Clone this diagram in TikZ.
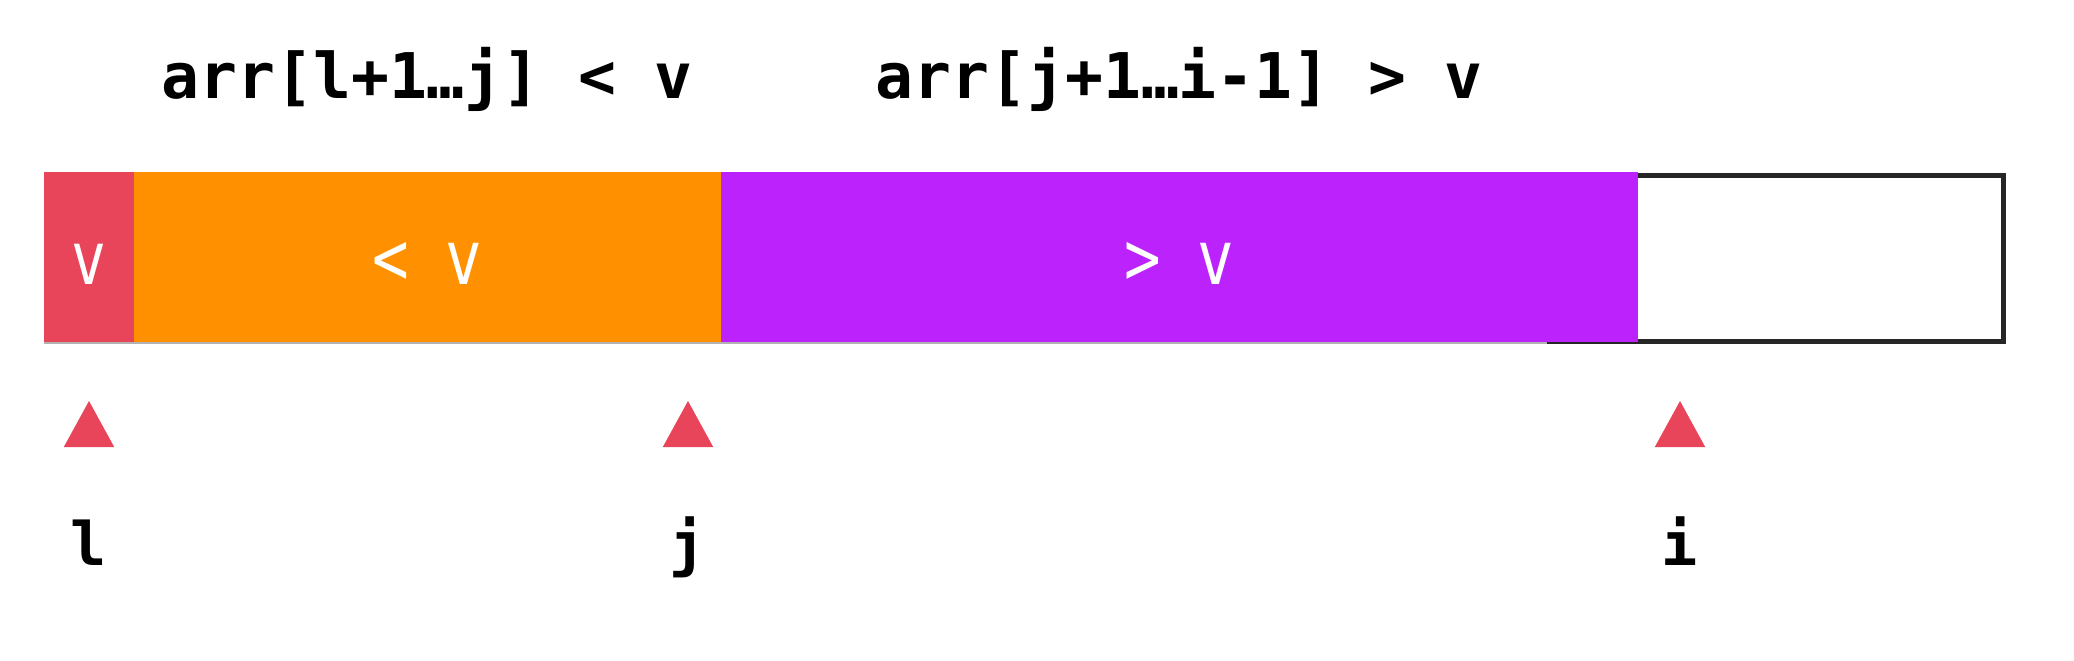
\documentclass[tikz,border=0pt]{standalone}
\usepackage{fontspec}
\newfontfamily\monof{DejaVu Sans Mono}
\definecolor{cred}{HTML}{E8455A}
\definecolor{corange}{HTML}{FF9100}
\definecolor{cpurple}{HTML}{BB22FC}
\definecolor{cborder}{HTML}{262626}
\begin{document}
\begin{tikzpicture}[x=1pt,y=-1pt,
  seg/.style={inner sep=0pt,outer sep=0pt,anchor=north west,minimum height=170pt},
  intext/.style={text=white,font=\monof\fontsize{58}{64}\selectfont,anchor=base,inner sep=0pt},
  toplabel/.style={font=\monof\bfseries\fontsize{63}{70}\selectfont,anchor=base,inner sep=0pt},
  idxlabel/.style={font=\monof\bfseries\fontsize{60}{66}\selectfont,anchor=base,inner sep=0pt},
  pointer/.style={fill=cred}]
\useasboundingbox (0,0) rectangle (2074,661);
\fill[white] (0,0) rectangle (2074,661);
% top labels
\node[toplabel] (t1) at (427,99) {arr[l+1…j] < v};
\node[toplabel] (t2) at (1179,99) {arr[j+1…i-1] > v};
% empty rest box
\draw[cborder,line width=5pt] (1547,175) rectangle (2003.5,341.5);
% faint shadow
\draw[gray!60,line width=2.5pt] (43.6,343) -- (1547,343);
% segments
\node[seg,fill=cred,minimum width=90pt] (sv) at (43.6,171.5) {};
\node[seg,fill=corange,minimum width=587.3pt] (sl) at (133.6,171.5) {};
\node[seg,fill=cpurple,minimum width=916.6pt] (sg) at (720.9,171.5) {};
% segment texts
\node[intext] (tv) at (88.6,284) {\scalebox{1}[1.27]{v}};
\node[intext] (tl) at (427,284) {\scalebox{1.05}[1.3]{< v}};
\node[intext] (tg) at (1179,284) {\scalebox{1.05}[1.3]{> v}};
% pointers
\fill[pointer] (89,401) -- (63.8,447) -- (114.2,447) -- cycle;
\fill[pointer] (688,401) -- (662.8,447) -- (713.2,447) -- cycle;
\fill[pointer] (1680,401) -- (1654.8,447) -- (1705.2,447) -- cycle;
% index labels
\node[idxlabel] (il) at (89,565) {l};
\node[idxlabel] (ij) at (688,565) {j};
\node[idxlabel] (ii) at (1680,565) {i};
\end{tikzpicture}
\end{document}
